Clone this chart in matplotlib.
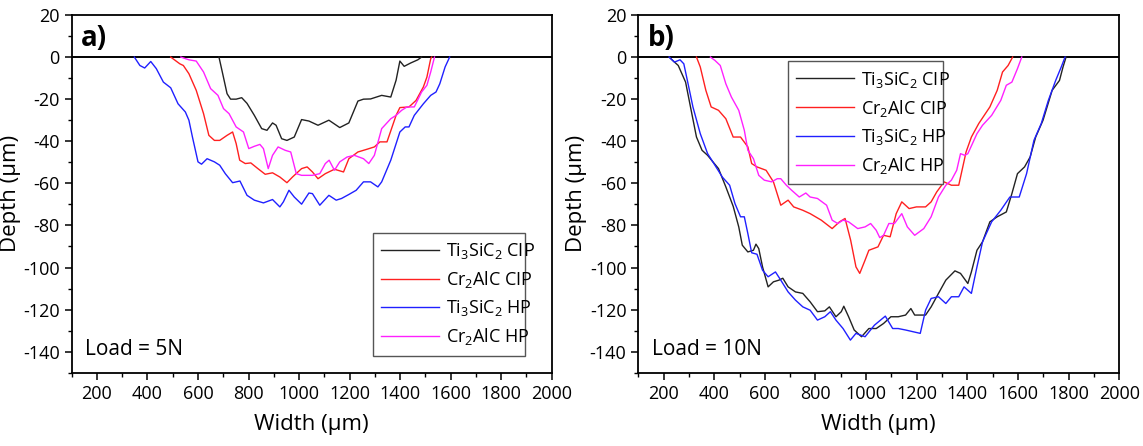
import matplotlib.pyplot as plt
from matplotlib.ticker import MultipleLocator

plt.rcParams['font.family'] = ['Open Sans', 'DejaVu Sans']
plt.rcParams['mathtext.fontset'] = 'custom'
plt.rcParams['mathtext.rm'] = 'Open Sans'
plt.rcParams['mathtext.it'] = 'Open Sans:italic'
plt.rcParams['mathtext.default'] = 'rm'
plt.rcParams['axes.unicode_minus'] = False

# ---- panel a) Load = 5N ----
a_ti_cip_x = [683, 696, 715, 729, 751, 773, 794, 823, 852, 873, 895, 909, 931, 952, 981, 1010,
              1039, 1075, 1118, 1161, 1197, 1233, 1255, 1283, 1327, 1363, 1384, 1399, 1416,
              1442, 1470, 1485]
a_ti_cip_y = [0, -7, -17.4, -20, -20, -19.3, -22, -27.7, -34, -34.8, -31.3, -32.4, -38.8, -39.6,
              -38, -29.7, -30.4, -32.4, -30, -33.5, -31.3, -20.9, -20, -19.9, -18.2, -19, -11,
              -1.9, -4.4, -2.8, -1.3, 0]

a_cr_cip_x = [492, 528, 542, 564, 593, 622, 643, 665, 686, 715, 737, 751, 765, 787, 809, 837,
              866, 895, 924, 952, 974, 1010, 1032, 1053, 1075, 1104, 1140, 1176, 1197, 1233,
              1269, 1298, 1320, 1348, 1384, 1399, 1435, 1463, 1492, 1506, 1521, 1525]
a_cr_cip_y = [0, -3.2, -4, -7.9, -15.8, -26.9, -37.2, -39.6, -39.6, -37.2, -35.6, -41.1, -49,
              -50.6, -50.3, -53, -55.7, -55, -57, -59.7, -57, -53, -52.2, -54.6, -57.8, -55.4,
              -53.3, -54.6, -48.3, -45.1, -43.8, -42.7, -40.3, -40.3, -27.7, -24, -23.7, -20.6,
              -14.2, -9.5, -0.8, 0]

a_ti_hp_x = [348, 370, 389, 413, 435, 463, 492, 521, 550, 564, 578, 600, 614, 636, 665, 686,
             708, 737, 766, 794, 823, 859, 895, 924, 938, 960, 981, 1010, 1039, 1053, 1082,
             1118, 1147, 1168, 1197, 1226, 1255, 1283, 1312, 1327, 1363, 1399, 1420, 1435,
             1456, 1492, 1521, 1542, 1557, 1578, 1596]
a_ti_hp_y = [0, -4, -5.2, -2.1, -5.5, -11.9, -14.6, -22.2, -26.1, -30, -38, -49.8, -50.9, -48.3,
             -49.8, -51.4, -55.4, -59.7, -58.9, -65.7, -68, -69.3, -67.7, -71.2, -68.8, -63.3,
             -66.5, -69.9, -64.6, -64.9, -70.4, -65.7, -68, -67.2, -65.3, -63.3, -59.3, -59.3,
             -61.7, -59.3, -49, -35.6, -33.2, -33.2, -27.7, -22.2, -18.2, -16.6, -12.7, -4.7, 0]

a_cr_hp_x = [532, 564, 593, 622, 650, 679, 701, 723, 751, 780, 801, 823, 845, 859, 878, 895,
             917, 945, 967, 989, 1010, 1053, 1082, 1104, 1119, 1140, 1161, 1190, 1219, 1255,
             1276, 1298, 1327, 1363, 1384, 1406, 1427, 1456, 1485, 1506, 1521, 1536]
a_cr_hp_y = [0, -1.3, -1.9, -7.1, -15, -18.2, -24.5, -26.9, -33.2, -35.6, -43.5, -42.4, -41.5,
             -43.5, -53, -46.7, -42.7, -44.3, -45.1, -55.4, -56.2, -56.2, -55.4, -50.6, -49,
             -53.8, -49.8, -47.5, -46.7, -48.3, -50.6, -46.7, -34, -29.3, -27.7, -25.3, -23.7,
             -23.7, -16.6, -13.4, -7.1, 0]

# ---- panel b) Load = 10N ----
b_ti_cip_x = [222, 236, 258, 287, 309, 330, 352, 374, 395, 417, 446, 475, 497, 511, 533, 555,
              565, 576, 591, 613, 634, 656, 671, 692, 721, 750, 779, 808, 837, 855, 881, 902,
              912, 931, 953, 982, 1011, 1040, 1069, 1098, 1127, 1156, 1177, 1192, 1235, 1257,
              1286, 1315, 1351, 1373, 1402, 1416, 1438, 1460, 1489, 1518, 1554, 1576, 1598,
              1626, 1648, 1670, 1699, 1735, 1764, 1778, 1790]
b_ti_cip_y = [0, -1.6, -4, -11.9, -25.3, -38, -44.3, -46.7, -49.8, -53, -61.7, -70.9, -80.7,
              -89.4, -92.6, -91.8, -88.9, -91, -99.7, -109.2, -106.8, -106, -105.1, -109.2,
              -111.6, -112.3, -116.3, -121, -120.6, -118.7, -123.4, -121, -118.4, -123.4,
              -129.7, -132.9, -129, -129, -126.6, -123.4, -123.4, -122.6, -119.5, -122.6,
              -122.6, -118.7, -112.3, -106, -101.6, -102.8, -107.6, -102.1, -91.8, -87.8,
              -78.3, -75.9, -73.6, -64.9, -55.4, -52.2, -47.5, -38, -30, -15.8, -11.1, -4.7, 0]

b_cr_cip_x = [330, 345, 367, 388, 417, 446, 475, 504, 533, 548, 569, 605, 634, 663, 692, 714,
              750, 779, 823, 866, 895, 917, 939, 960, 975, 996, 1011, 1047, 1069, 1095, 1119,
              1141, 1170, 1199, 1235, 1257, 1279, 1308, 1337, 1366, 1395, 1416, 1445, 1489,
              1518, 1539, 1561, 1579]
b_cr_cip_y = [0, -4.7, -15.8, -23.7, -25.3, -29.3, -38, -38, -42.7, -50.6, -52.2, -53.8, -59.3,
              -70.4, -68, -71.2, -72.8, -74.4, -77.5, -81.5, -78.3, -76.7, -87, -99.7, -102.8,
              -96.5, -91.8, -90.2, -84.7, -85.4, -74.4, -68.8, -72, -71.2, -71.2, -68.8, -64.1,
              -59.3, -60.9, -60.9, -45.1, -38, -31.6, -23.7, -15.8, -7.1, -4, 0]

b_ti_hp_x = [222, 243, 265, 280, 294, 316, 345, 374, 403, 432, 461, 482, 504, 519, 533, 548,
             569, 591, 613, 642, 663, 692, 721, 750, 779, 808, 837, 859, 881, 909, 938, 960,
             996, 1033, 1076, 1105, 1127, 1156, 1185, 1214, 1235, 1257, 1286, 1315, 1337, 1366,
             1387, 1416, 1438, 1460, 1496, 1532, 1568, 1605, 1634, 1663, 1692, 1720, 1749,
             1771, 1786]
b_ti_hp_y = [0, -2.4, -1.3, -3.2, -11.1, -23.7, -36.4, -45.9, -51.4, -57, -60.9, -69.6, -75.9,
             -75.9, -83.9, -93, -93.7, -101.3, -104.4, -102.1, -106, -111.6, -115.5, -118.7,
             -120.3, -125, -123.4, -121, -125, -129, -134.5, -131.3, -132.9, -127.4, -123.1,
             -129, -129, -129.7, -130.5, -131.3, -120.3, -114.7, -113.9, -117.1, -113.9,
             -113.9, -109.2, -112.3, -99.7, -87.8, -78.3, -72.8, -66.5, -66.5, -55.4, -39.6,
             -31.6, -20.6, -11.1, -4.7, 0]

b_cr_hp_x = [385, 403, 424, 446, 468, 497, 519, 533, 555, 576, 598, 627, 649, 663, 685, 706,
             736, 762, 779, 808, 844, 866, 888, 909, 931, 967, 996, 1018, 1040, 1054, 1069,
             1090, 1112, 1141, 1163, 1192, 1228, 1257, 1286, 1315, 1337, 1358, 1373, 1390,
             1402, 1438, 1460, 1496, 1532, 1554, 1576, 1598, 1615]
b_cr_hp_y = [0, -1.6, -4, -12.7, -19, -25.3, -34.8, -44.3, -48.3, -56.2, -58.5, -59.3, -57.8,
             -57.8, -60.9, -63.3, -66.5, -64.6, -66.5, -67.2, -70.4, -77.5, -79.1, -77.5,
             -78.3, -81.5, -80.7, -79.1, -82.3, -85.8, -84.7, -79.1, -79.1, -74.4, -80.7,
             -84.7, -81.5, -75.9, -66.5, -60.9, -58.5, -53.8, -45.9, -46.7, -45.9, -36.4,
             -32.4, -27.7, -20.6, -13.4, -11.9, -5.5, 0]

labels = [r'Ti$_3$SiC$_2$ CIP', r'Cr$_2$AlC CIP', r'Ti$_3$SiC$_2$ HP', r'Cr$_2$AlC HP']
colors = ['#222222', '#ff2020', '#2020ff', '#ff20ff']

panels = [
    ('a)', 'Load = 5N',
     [(a_ti_cip_x, a_ti_cip_y), (a_cr_cip_x, a_cr_cip_y), (a_ti_hp_x, a_ti_hp_y), (a_cr_hp_x, a_cr_hp_y)],
     'lower left', (0.627, 0.048, 0.317, 0.3)),
    ('b)', 'Load = 10N',
     [(b_ti_cip_x, b_ti_cip_y), (b_cr_cip_x, b_cr_cip_y), (b_ti_hp_x, b_ti_hp_y), (b_cr_hp_x, b_cr_hp_y)],
     'upper left', (0.312, 0.57, 0.322, 0.3)),
]
positions = [[0.0627, 0.1643, 0.4200, 0.8021], [0.5584, 0.1643, 0.4208, 0.8021]]

fig = plt.figure(figsize=(11.43, 4.46), dpi=100)

for (tag, load, series, leg_loc, leg_box), pos in zip(panels, positions):
    ax = fig.add_axes(pos)
    ax.axhline(0, color='black', lw=1.4, zorder=1)
    for (xs, ys), lab, c in zip(series, labels, colors):
        ax.plot(xs, ys, color=c, lw=1.0, label=lab, zorder=2)
    ax.set_xlim(100, 2000)
    ax.set_ylim(-150, 20)
    ax.xaxis.set_major_locator(MultipleLocator(200))
    ax.xaxis.set_minor_locator(MultipleLocator(100))
    ax.yaxis.set_major_locator(MultipleLocator(20))
    ax.yaxis.set_minor_locator(MultipleLocator(10))
    ax.set_xticks(range(200, 2001, 200))
    ax.tick_params(which='major', direction='out', length=5, width=1.1, labelsize=13,
                   top=False, right=False)
    ax.tick_params(which='minor', direction='out', length=3, width=1.0, top=False, right=False)
    for sp in ax.spines.values():
        sp.set_linewidth(1.3)
    ax.set_xlabel('Width (μm)', fontsize=16, labelpad=8)
    ax.set_ylabel('Depth (μm)', fontsize=16)
    ax.yaxis.set_label_coords(-0.106, 0.5)
    ax.text(0.02, 0.935, tag, transform=ax.transAxes, fontsize=20, fontweight='bold',
            va='center', ha='left')
    ax.text(0.028, 0.065, load, transform=ax.transAxes, fontsize=15, va='center', ha='left')
    leg = ax.legend(loc=leg_loc, bbox_to_anchor=leg_box, mode='expand', fontsize=13,
                    frameon=True, fancybox=False, edgecolor='#555555', framealpha=1,
                    handlelength=3.2, handletextpad=0.4, labelspacing=0.45,
                    borderpad=0.45, borderaxespad=0)
    leg.get_frame().set_linewidth(1.0)

fig.savefig('out.png', dpi=100)
